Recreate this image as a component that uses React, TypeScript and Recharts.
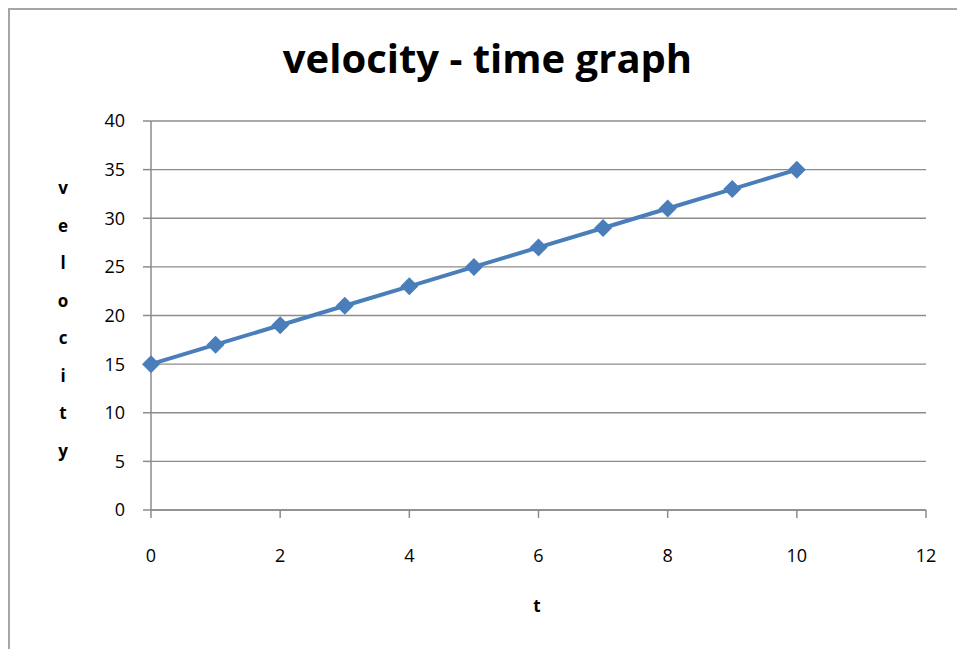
import { LineChart, Line, XAxis, YAxis, CartesianGrid } from "recharts";

const times = [0, 1, 2, 3, 4, 5, 6, 7, 8, 9, 10];
const velocities = [15, 17, 19, 21, 23, 25, 27, 29, 31, 33, 35];
const xTicks = [0, 2, 4, 6, 8, 10, 12];
const yTicks = [0, 5, 10, 15, 20, 25, 30, 35, 40];
const yLabel = ["v", "e", "l", "o", "c", "i", "t", "y"];

const data = times.map((t, i) => ({ t, v: velocities[i] }));

const Diamond = (props: any) => {
  const { cx, cy } = props;
  const r = 9;
  return (
    <polygon
      points={`${cx},${cy - r} ${cx + r},${cy} ${cx},${cy + r} ${cx - r},${cy}`}
      fill="#4a7ebb"
    />
  );
};

const font = "'Open Sans', sans-serif";

export default function App() {
  return (
    <div
      style={{
        position: "absolute",
        left: 0,
        top: 0,
        width: 957,
        height: 649,
        overflow: "hidden",
        background: "#fff",
        fontFamily: font,
      }}
    >
      <div
        style={{
          position: "absolute",
          left: 8,
          top: 8,
          width: 1000,
          height: 700,
          border: "2px solid #a6a6a6",
        }}
      />
      <LineChart
        width={957}
        height={649}
        data={data}
        margin={{ top: 121, right: 31, left: 91, bottom: 79 }}
        style={{ position: "absolute", left: 0, top: 0 }}
      >
        <CartesianGrid vertical={false} stroke="#8c8c8c" strokeWidth={1.3} />
        <XAxis
          dataKey="t"
          type="number"
          domain={[0, 12]}
          ticks={xTicks}
          height={60}
          stroke="#8c8c8c"
          strokeWidth={1.5}
          tickSize={8}
          tickMargin={31}
          tick={{ fill: "#000", fontSize: 18, fontFamily: font }}
        />
        <YAxis
          type="number"
          domain={[0, 40]}
          ticks={yTicks}
          width={60}
          stroke="#8c8c8c"
          strokeWidth={1.5}
          tickSize={8}
          tickMargin={18}
          tick={{ fill: "#000", fontSize: 18, fontFamily: font }}
        />
        <Line
          dataKey="v"
          stroke="#4a7ebb"
          strokeWidth={4}
          dot={<Diamond />}
          activeDot={false}
          isAnimationActive={false}
        />
      </LineChart>
      <div
        style={{
          position: "absolute",
          left: 0,
          width: 975,
          top: 30,
          textAlign: "center",
          fontWeight: "bold",
          fontSize: 40,
          color: "#000",
        }}
      >
        velocity - time graph
      </div>
      {yLabel.map((ch, i) => (
        <div
          key={i}
          style={{
            position: "absolute",
            left: 53,
            width: 20,
            top: 177 + i * 37.5,
            textAlign: "center",
            fontWeight: "bold",
            fontSize: 17,
            lineHeight: "22px",
          }}
        >
          {ch}
        </div>
      ))}
      <div
        style={{
          position: "absolute",
          left: 527,
          width: 20,
          top: 595,
          textAlign: "center",
          fontWeight: "bold",
          fontSize: 17,
          lineHeight: "22px",
        }}
      >
        t
      </div>
    </div>
  );
}
